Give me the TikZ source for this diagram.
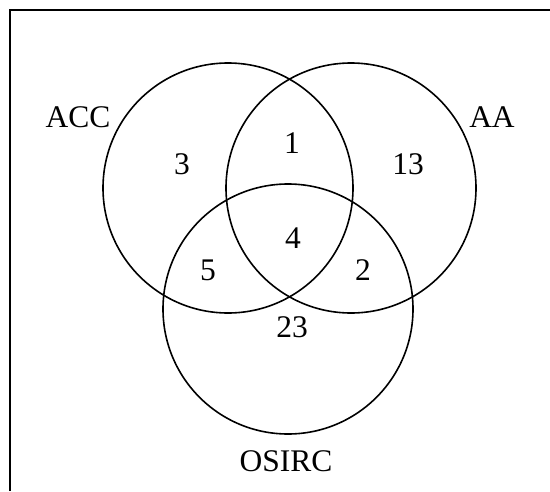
\documentclass[tikz,border=0pt]{standalone}
\usepackage{fontspec}
\setmainfont{Liberation Serif}
\begin{document}
\begin{tikzpicture}[x=1pt,y=-1pt,
  setcircle/.style={circle, draw, line width=1.6pt, minimum size=250pt, inner sep=0pt, outer sep=0pt},
  lbl/.style={font=\fontsize{31.5}{36}\selectfont, inner sep=0pt, anchor=center},
  framestyle/.style={line width=2.2pt}]
  \useasboundingbox (0,0) rectangle (550,491);
  % open frame: left and top edges only
  \coordinate (fbl) at (10,491);
  \coordinate (ftl) at (10,10);
  \coordinate (ftr) at (550,10);
  \draw[framestyle] (fbl) -- (ftl) -- (ftr);
  % the three sets
  \node[setcircle] (acc) at (228,188) {};
  \node[setcircle] (aa) at (351,188) {};
  \node[setcircle] (osirc) at (288,309) {};
  % set names
  \node[lbl] (lacc) at (78,117) {ACC};
  \node[lbl] (laa) at (492,117) {AA};
  \node[lbl] (losirc) at (286,461) {OSIRC};
  % region counts
  \node[lbl] (n3) at (182,164) {3};
  \node[lbl] (n1) at (292,143) {1};
  \node[lbl] (n13) at (408,164) {13};
  \node[lbl] (n4) at (293,238) {4};
  \node[lbl] (n5) at (208,270) {5};
  \node[lbl] (n2) at (363,270) {2};
  \node[lbl] (n23) at (292,327) {23};
\end{tikzpicture}
\end{document}
